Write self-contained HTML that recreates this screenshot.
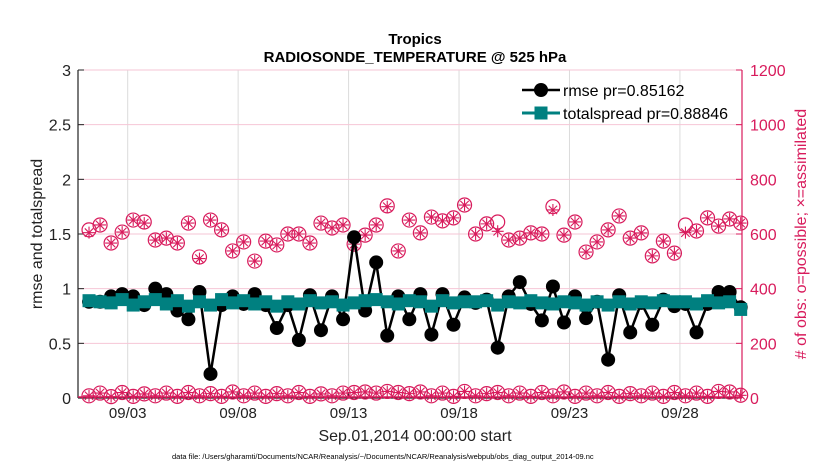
<!DOCTYPE html>
<html><head><meta charset="utf-8"><style>
body{margin:0;background:#fff;font-family:"Liberation Sans",sans-serif}
svg{display:block}
</style></head><body>
<svg id="chart" width="830" height="470" xmlns="http://www.w3.org/2000/svg"></svg>
<script>
const dayTicks=[2,7,12,17,22,27];
const dayTickLabels=["09/03","09/08","09/13","09/18","09/23","09/28"];
const leftTicks=[0,0.5,1,1.5,2,2.5,3];
const rightTicks=[0,200,400,600,800,1000,1200];
const rmse=[0.88,0.88,0.93,0.95,0.93,0.85,1.00,0.95,0.80,0.72,0.97,0.22,0.85,0.93,0.86,0.95,0.85,0.64,0.85,0.53,0.94,0.62,0.93,0.72,1.47,0.80,1.24,0.57,0.93,0.72,0.95,0.58,0.95,0.67,0.92,0.87,0.90,0.46,0.93,1.06,0.86,0.71,1.02,0.69,0.93,0.73,0.88,0.35,0.94,0.60,0.87,0.67,0.90,0.84,0.86,0.60,0.86,0.97,0.97,0.83];
const spread=[0.89,0.88,0.87,0.90,0.85,0.88,0.90,0.86,0.89,0.84,0.88,0.85,0.90,0.87,0.89,0.86,0.88,0.84,0.88,0.86,0.89,0.87,0.88,0.85,0.87,0.89,0.90,0.88,0.86,0.89,0.88,0.84,0.89,0.87,0.88,0.88,0.89,0.85,0.88,0.87,0.89,0.87,0.86,0.88,0.87,0.85,0.88,0.85,0.88,0.86,0.88,0.87,0.89,0.88,0.88,0.86,0.89,0.87,0.88,0.81];
const obsPossible=[615,633,567,607,651,644,578,585,567,640,516,651,615,538,571,501,574,560,600,600,567,640,622,633,563,596,633,703,538,651,604,662,648,659,706,600,637,644,578,585,604,600,700,596,644,534,571,615,666,585,604,520,574,530,633,611,659,629,655,640];
const obsAssim=[605,633,567,607,651,640,578,585,567,640,510,651,615,538,571,501,574,560,600,600,567,640,622,633,563,596,633,700,538,651,604,662,648,659,706,600,637,610,578,585,604,600,688,596,644,534,571,615,666,585,604,520,574,530,605,611,659,629,655,640];
const lowPossible=[8,18,5,20,6,15,8,18,6,20,8,16,6,22,8,18,6,16,8,20,6,15,8,18,20,22,18,24,20,16,22,8,18,6,24,8,16,20,8,18,6,20,8,22,6,18,8,20,6,16,8,18,6,20,8,18,6,24,22,10];
const lowAssim=lowPossible;

const NS="http://www.w3.org/2000/svg";
const svg=document.getElementById('chart');
const X0=78,X1=742,Y0=398,Y1=70;
const pink="#d81b5c",teal="#008080";
function xDay(d){return 83.5+22.09*d;}
function xIdx(k){return xDay(0.25+0.5*k);}
function yL(v){return Y0-(v/3)*(Y0-Y1);}
function yR(v){return Y0-(v/1200)*(Y0-Y1);}
function mk(tag,attrs,parent){const e=document.createElementNS(NS,tag);for(const k in attrs)e.setAttribute(k,attrs[k]);(parent||svg).appendChild(e);return e;}

const grid=mk('g',{});


dayTicks.forEach(d=>{mk('line',{x1:xDay(d),x2:xDay(d),y1:Y1,y2:Y0,stroke:"#dcdcdc","stroke-width":1},grid);});
rightTicks.forEach(v=>{if(v>0)mk('line',{x1:X0,x2:X1,y1:yR(v),y2:yR(v),stroke:"#f6c6d6","stroke-width":1},grid);});

const axes=mk('g',{});


mk('line',{x1:X0,x2:X0,y1:Y1,y2:Y0,stroke:"#222","stroke-width":1.2},axes);
mk('line',{x1:X0,x2:X1,y1:Y0,y2:Y0,stroke:"#222","stroke-width":1.2},axes);
mk('line',{x1:X1,x2:X1,y1:Y1,y2:Y0,stroke:pink,"stroke-width":1.2},axes);
leftTicks.forEach(v=>{
  mk('line',{x1:X0,x2:X0+6,y1:yL(v),y2:yL(v),stroke:"#222"},axes);
  const t=mk('text',{x:X0-7,y:yL(v)+6,"text-anchor":"end","font-size":16,fill:"#222"},axes);t.textContent=v;
  
  
});
rightTicks.forEach(v=>{
  mk('line',{x1:X1-6,x2:X1,y1:yR(v),y2:yR(v),stroke:pink},axes);
  const t=mk('text',{x:X1+8,y:yR(v)+6,"font-size":16,fill:pink},axes);t.textContent=v;
  
  
});
dayTicks.forEach((d,i)=>{
  mk('line',{x1:xDay(d),x2:xDay(d),y1:Y0-6,y2:Y0,stroke:"#222"},axes);
  const t=mk('text',{x:xDay(d),y:418,"text-anchor":"middle","font-size":15,fill:"#222"},axes);t.textContent=dayTickLabels[i];
  
  
});

function obsMarker(g,x,y){
  const s=6;
  mk('path',{d:`M${x-s} ${y}H${x+s}M${x} ${y-s}V${y+s}M${x-4.2} ${y-4.2}L${x+4.2} ${y+4.2}M${x-4.2} ${y+4.2}L${x+4.2} ${y-4.2}`,stroke:pink,"stroke-width":1.1},g);
}
const obsG=mk('g',{});


mk('line',{x1:X0,x2:X1,y1:Y0-1,y2:Y0-1,stroke:pink,"stroke-width":1.5},obsG);
obsPossible.forEach((v,k)=>{const x=xIdx(k);
  mk('circle',{cx:x,cy:yR(v),r:7,fill:"none",stroke:pink,"stroke-width":1.2},obsG);
  mk('circle',{cx:x,cy:yR(lowPossible[k]),r:7,fill:"none",stroke:pink,"stroke-width":1.2},obsG);});
obsAssim.forEach((v,k)=>{const x=xIdx(k);obsMarker(obsG,x,yR(v));obsMarker(obsG,x,yR(lowAssim[k]));});

const rG=mk('g',{});


mk('polyline',{points:rmse.map((v,k)=>xIdx(k)+","+yL(v)).join(" "),fill:"none",stroke:"#000","stroke-width":2.5},rG);
rmse.forEach((v,k)=>mk('circle',{cx:xIdx(k),cy:yL(v),r:7,fill:"#000"},rG));
const sG=mk('g',{});


mk('polyline',{points:spread.map((v,k)=>xIdx(k)+","+yL(v)).join(" "),fill:"none",stroke:teal,"stroke-width":3},sG);
spread.forEach((v,k)=>mk('rect',{x:xIdx(k)-6.5,y:yL(v)-6.5,width:13,height:13,fill:teal},sG));

const lg=mk('g',{});


mk('line',{x1:522,x2:560,y1:90,y2:90,stroke:"#000","stroke-width":2.5},lg);
mk('circle',{cx:541,cy:90,r:7,fill:"#000"},lg);
let t=mk('text',{x:563,y:96,"font-size":16,fill:"#000"},lg);t.textContent="rmse pr=0.85162";
mk('line',{x1:522,x2:560,y1:113,y2:113,stroke:teal,"stroke-width":3},lg);
mk('rect',{x:534.5,y:106.5,width:13,height:13,fill:teal},lg);
t=mk('text',{x:563,y:119,"font-size":16,fill:"#000"},lg);t.textContent="totalspread pr=0.88846";

t=mk('text',{x:415,y:44,"text-anchor":"middle","font-size":15,"font-weight":"bold",fill:"#000"});t.textContent="Tropics";


t=mk('text',{x:415,y:62,"text-anchor":"middle","font-size":15,"font-weight":"bold",fill:"#000"});t.textContent="RADIOSONDE_TEMPERATURE @ 525 hPa";


t=mk('text',{x:415,y:441,"text-anchor":"middle","font-size":16,fill:"#222"});t.textContent="Sep.01,2014 00:00:00 start";


t=mk('text',{x:172,y:459,"font-size":7.5,fill:"#000"});t.textContent="data file: /Users/gharamti/Documents/NCAR/Reanalysis/~/Documents/NCAR/Reanalysis/webpub/obs_diag_output_2014-09.nc";


t=mk('text',{x:0,y:0,"text-anchor":"middle","font-size":16,fill:"#222",transform:"translate(42,234) rotate(-90)"});t.textContent="rmse and totalspread";


t=mk('text',{x:0,y:0,"text-anchor":"middle","font-size":16,fill:pink,transform:"translate(806,234) rotate(-90)"});t.textContent="# of obs: o=possible; \u00d7=assimilated";


</script>
</body></html>
